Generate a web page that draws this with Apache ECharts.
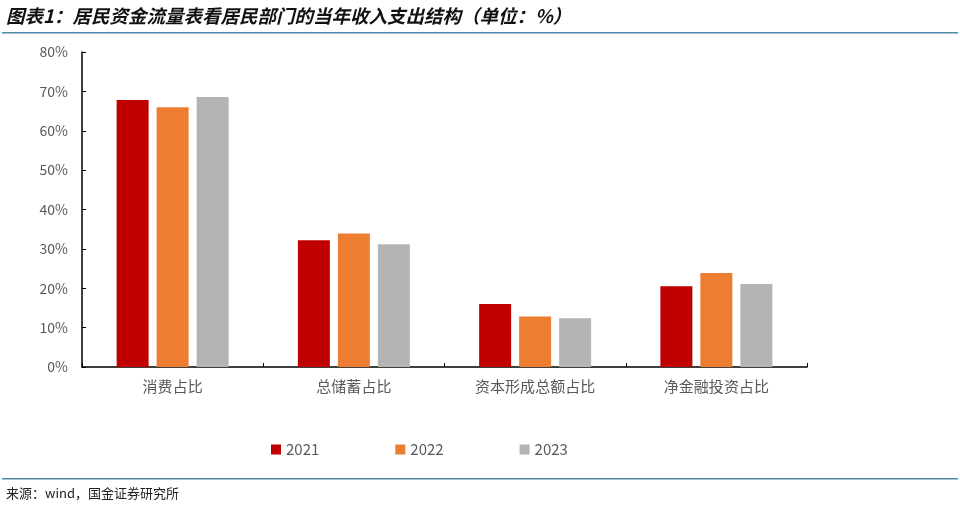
<!DOCTYPE html>
<html><head><meta charset="utf-8">
<script src="https://cdn.jsdelivr.net/npm/echarts@6/dist/echarts.min.js"></script>
<style>html,body{margin:0;padding:0;background:#fff}#c{width:960px;height:512px}</style>
</head><body><div id="c"></div>
<script>
const categories = ['消费占比', '总储蓄占比', '资本形成总额占比', '净金融投资占比'];
const seriesNames = ['2021', '2022', '2023'];
const v2021 = [67.8, 32.2, 16.0, 20.5];
const v2022 = [66.0, 33.9, 12.8, 23.9];
const v2023 = [68.6, 31.2, 12.4, 21.1];
const colors = ['#C00000', '#ED7D31', '#B4B4B4'];
const titleText = '图表1：居民资金流量表看居民部门的当年收入支出结构（单位：%）';
const sourceText = '来源：wind，国金证券研究所';

const chart = echarts.init(document.getElementById('c'));
const font = '"Noto Sans CJK SC", "Noto Sans", sans-serif';
chart.setOption({
  animation: false,
  textStyle: { fontFamily: font },
  grid: { left: 82, right: 153, top: 52, bottom: 145 },
  legend: {
    data: seriesNames, bottom: 50, left: 266, itemGap: 76,
    itemWidth: 10, itemHeight: 10, icon: 'rect',
    textStyle: { color: '#595959', fontSize: 15, fontFamily: font }
  },
  xAxis: {
    type: 'category', data: categories,
    axisLine: { lineStyle: { color: '#000', width: 1.5 } },
    axisTick: { show: true, inside: true, length: 4, lineStyle: { color: '#000' } },
    axisLabel: { color: '#595959', fontSize: 15, margin: 12, fontFamily: font }
  },
  yAxis: {
    type: 'value', min: 0, max: 80, interval: 10,
    axisLine: { show: true, lineStyle: { color: '#000', width: 1.5 } },
    axisTick: { show: true, inside: true, length: 4, lineStyle: { color: '#000' } },
    splitLine: { show: false },
    axisLabel: { color: '#595959', fontSize: 14, margin: 14, formatter: '{value}%', fontFamily: font }
  },
  series: [
    { name: seriesNames[0], type: 'bar', data: v2021, barWidth: 32, barGap: '25%', itemStyle: { color: colors[0] } },
    { name: seriesNames[1], type: 'bar', data: v2022, barWidth: 32, barGap: '25%', itemStyle: { color: colors[1] } },
    { name: seriesNames[2], type: 'bar', data: v2023, barWidth: 32, barGap: '25%', itemStyle: { color: colors[2] } }
  ],
  graphic: [
    { type: 'text', left: 6, top: 7, style: { text: titleText, fill: '#111', font: 'italic bold 18.5px "Noto Sans CJK SC", sans-serif' } },
    { type: 'rect', shape: { x: 2, y: 32, width: 956, height: 1.5 }, style: { fill: '#4F88A8' } },
    { type: 'rect', shape: { x: 2, y: 478, width: 956, height: 1.5 }, style: { fill: '#4F88A8' } },
    { type: 'text', left: 6, top: 487, style: { text: sourceText, fill: '#222', font: '13px "Noto Sans CJK SC", sans-serif' } }
  ]
});
</script></body></html>
